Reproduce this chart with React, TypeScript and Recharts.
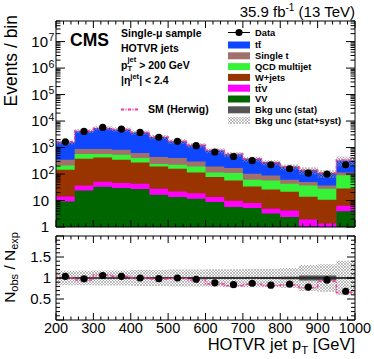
import React from "react";
import { Area, ComposedChart, ErrorBar, Line, ReferenceLine, Scatter, XAxis, YAxis } from "recharts";

const FONT = "'Liberation Sans', Arial, Helvetica, sans-serif";

// HOTVR jet pT bins [GeV], last bin holds the overflow
const binEdges = [200, 250, 300, 350, 400, 450, 500, 550, 600, 650, 700, 750, 800, 850, 900, 950, 1000];

// events per bin
const dataObs = [1650, 4070, 5750, 5000, 3730, 2450, 1720, 1180, 680, 460, 320, 224, 158, 108, 100, 224];
const ttbar = [1240, 3280, 4550, 3980, 3110, 2050, 1320, 915, 575, 380, 265, 180, 124, 88, 68, 212];
const singleTop = [137, 305, 305, 295, 220, 200, 176, 106, 79, 60, 41, 32, 18, 13, 9, 26];
const qcd = [65, 190, 145, 188, 125, 46, 66, 79, 38, 53, 27, 31, 22, 23, 17, 61];
const wjets = [131, 343, 374, 301, 232, 166, 136, 96, 63, 47, 26, 21, 17, 12, 9.4, 22];
const ttv = [5, 13, 18, 16, 16, 11, 8.5, 7.3, 4.7, 4.1, 2.9, 1.7, 1.8, 0.85, 0.4, 2.5];
const vv = [9.2, 24, 33, 30, 27, 16.6, 13.5, 11.7, 8.8, 5.7, 5.2, 3.2, 2.4, 1.05, 0.95, 3.9];
const herwig = [1650, 4260, 5370, 4810, 3730, 2510, 1740, 1235, 790, 565, 376, 275, 189, 140, 109, 342];

// ratio panel
const ratioObs = [1.04, 0.98, 1.06, 1.04, 1.0, 0.985, 1.0, 0.97, 0.885, 0.84, 0.875, 0.83, 0.855, 0.785, 0.955, 0.685];
const ratioErr = [0.025, 0.015, 0.015, 0.015, 0.017, 0.02, 0.025, 0.03, 0.035, 0.04, 0.05, 0.055, 0.065, 0.075, 0.09, 0.05];
const ratioHerwig = [1.0, 0.955, 1.07, 1.04, 1.0, 0.975, 0.99, 0.955, 0.86, 0.815, 0.85, 0.815, 0.835, 0.77, 0.92, 0.655];
const relUncSyst = [0.17, 0.17, 0.18, 0.18, 0.19, 0.19, 0.2, 0.2, 0.21, 0.21, 0.22, 0.22, 0.24, 0.31, 0.33, 0.41];
const relUncStat = [0.012, 0.008, 0.008, 0.008, 0.008, 0.01, 0.012, 0.015, 0.015, 0.02, 0.02, 0.025, 0.03, 0.06, 0.06, 0.015];

const colors = {
  tt: "#0f46ff",
  st: "#a1706b",
  qcd: "#37f337",
  wjets: "#993300",
  ttv: "#ff00ff",
  vv: "#006600",
  stat: "#555555",
  herwig: "#ff3399",
};

// step rows: one per bin edge, the last edge repeats the last bin
const histRows = binEdges.map((x, k) => {
  const i = Math.min(k, dataObs.length - 1);
  const c1 = vv[i];
  const c2 = c1 + ttv[i];
  const c3 = c2 + wjets[i];
  const c4 = c3 + qcd[i];
  const c5 = c4 + singleTop[i];
  const c6 = c5 + ttbar[i];
  const u = relUncSyst[i];
  const s = relUncStat[i];
  return {
    x,
    vv: c1,
    ttv: c2,
    wjets: c3,
    qcd: c4,
    st: c5,
    tt: c6,
    syst: [c6 * (1 - u), c6 * (1 + u)],
    stat: [c6 * (1 - s), c6 * (1 + s)],
    herwig: herwig[i],
    rSyst: [1 - u, 1 + u],
    rStat: [1 - s, 1 + s],
    rHerwig: ratioHerwig[i],
  };
});

const pointRows = dataObs.map((y, i) => ({ x: (binEdges[i] + binEdges[i + 1]) / 2, y }));
const ratioRows = ratioObs.map((y, i) => ({ x: (binEdges[i] + binEdges[i + 1]) / 2, y, err: ratioErr[i] }));

const xTicks: number[] = [];
for (let v = 200; v <= 1000; v += 20) xTicks.push(v);
const logTicks: number[] = [];
for (let d = 0; d <= 7; d++) for (let m = 1; m <= 9; m++) if (m * 10 ** d <= 6e7) logTicks.push(m * 10 ** d);
const ratioTicks: number[] = [];
for (let k = 0; k <= 20; k++) ratioTicks.push(k / 10);

function XTick({ x, y, payload, side, labels }: any) {
  const v = payload.value;
  const major = v % 100 === 0;
  const len = major ? 7 : 3.5;
  const dir = side === "top" ? 1 : -1;
  return (
    <g>
      <line x1={x} x2={x} y1={y} y2={y + dir * len} stroke="#000" strokeWidth={1} />
      {labels && major && (
        <text x={x} y={y + 12.5} textAnchor="middle" fontSize={14.5} fontFamily={FONT} fill="#000">
          {v}
        </text>
      )}
    </g>
  );
}

function LogTick({ x, y, payload, side }: any) {
  const v = payload.value;
  const e = Math.round(Math.log10(v));
  const major = Math.abs(10 ** e - v) < 1e-6 * v;
  const len = major ? 9 : 4.5;
  const dir = side === "left" ? 1 : -1;
  let label = null;
  if (side === "left" && major) {
    label =
      e < 2 ? (
        <text x={x - 7} y={y + 5.4} textAnchor="end" fontSize={15} fontFamily={FONT} fill="#000">
          {e === 0 ? "1" : "10"}
        </text>
      ) : (
        <g>
          <text x={x - 8} y={y + 5.4} textAnchor="end" fontSize={15} fontFamily={FONT} fill="#000">
            10
          </text>
          <text x={x - 7.5} y={y - 0.5} textAnchor="start" fontSize={10.5} fontFamily={FONT} fill="#000">
            {e}
          </text>
        </g>
      );
  }
  return (
    <g>
      <line x1={x} x2={x + dir * len} y1={y} y2={y} stroke="#000" strokeWidth={1} />
      {label}
    </g>
  );
}

function RatioTick({ x, y, payload, side }: any) {
  const k = Math.round(payload.value * 10);
  const major = k % 5 === 0;
  const len = major ? 8 : 4;
  const dir = side === "left" ? 1 : -1;
  const txt = k === 5 ? "0.5" : k === 10 ? "1" : k === 15 ? "1.5" : null;
  return (
    <g>
      <line x1={x} x2={x + dir * len} y1={y} y2={y} stroke="#000" strokeWidth={1} />
      {side === "left" && txt && (
        <text x={x - 5} y={y + 5.2} textAnchor="end" fontSize={15} fontFamily={FONT} fill="#000">
          {txt}
        </text>
      )}
    </g>
  );
}

const axisCommon = {
  type: "number" as const,
  tickSize: 0,
  tickMargin: 0,
  tickLine: false,
  interval: 0 as const,
  allowDataOverflow: true,
  axisLine: { stroke: "#000", strokeWidth: 1 },
};

function Hatch({ id }: { id: string }) {
  return (
    <defs>
      <pattern id={id} patternUnits="userSpaceOnUse" width={3} height={3}>
        <path d="M0,0 L3,3 M3,0 L0,3" stroke="#8a8a8a" strokeWidth={0.55} />
      </pattern>
    </defs>
  );
}

function TopPanel() {
  const stack: [string, string][] = [
    ["tt", colors.tt],
    ["st", colors.st],
    ["qcd", colors.qcd],
    ["wjets", colors.wjets],
    ["ttv", colors.ttv],
    ["vv", colors.vv],
  ];
  return (
    <ComposedChart width={374} height={236} data={histRows} margin={{ top: 20, right: 18, bottom: 8, left: 0 }}>
      <Hatch id="hatchTop" />
      <XAxis {...axisCommon} dataKey="x" domain={[200, 1000]} ticks={xTicks} height={1} tick={(p: any) => <XTick {...p} side="bottom" />} />
      <XAxis {...axisCommon} xAxisId="top" orientation="top" dataKey="x" domain={[200, 1000]} ticks={xTicks} height={1} tick={(p: any) => <XTick {...p} side="top" />} />
      <YAxis {...axisCommon} scale="log" domain={[1, 6e7]} ticks={logTicks} width={56} tick={(p: any) => <LogTick {...p} side="left" />} />
      <YAxis {...axisCommon} yAxisId="right" orientation="right" scale="log" domain={[1, 6e7]} ticks={logTicks} width={1} tick={(p: any) => <LogTick {...p} side="right" />} />
      {stack.map(([key, col]) => (
        <Area key={key} type="stepAfter" dataKey={key} fill={col} fillOpacity={1} stroke="none" isAnimationActive={false} />
      ))}
      <Area type="stepAfter" dataKey="syst" fill="url(#hatchTop)" fillOpacity={1} stroke="none" isAnimationActive={false} />
      <Area type="stepAfter" dataKey="stat" fill={colors.stat} fillOpacity={1} stroke="none" isAnimationActive={false} />
      <Line type="stepAfter" dataKey="herwig" stroke={colors.herwig} strokeWidth={1.5} strokeDasharray="3 1.5 1 1.5" dot={false} isAnimationActive={false} />
      <Scatter data={pointRows} dataKey="y" isAnimationActive={false} shape={(p: any) => <circle cx={p.cx} cy={p.cy} r={3.6} fill="#000" />} />
    </ComposedChart>
  );
}

function RatioPanel() {
  return (
    <ComposedChart width={374} height={359} data={histRows} margin={{ top: 235, right: 18, bottom: 0, left: 0 }}>
      <Hatch id="hatchRatio" />
      <XAxis {...axisCommon} dataKey="x" domain={[200, 1000]} ticks={xTicks} height={39} tick={(p: any) => <XTick {...p} side="bottom" labels />} />
      <XAxis {...axisCommon} xAxisId="top" orientation="top" dataKey="x" domain={[200, 1000]} ticks={xTicks} height={1} tick={(p: any) => <XTick {...p} side="top" />} />
      <YAxis {...axisCommon} domain={[0, 2]} ticks={ratioTicks} width={56} tick={(p: any) => <RatioTick {...p} side="left" />} />
      <YAxis {...axisCommon} yAxisId="right" orientation="right" domain={[0, 2]} ticks={ratioTicks} width={1} tick={(p: any) => <RatioTick {...p} side="right" />} />
      <Area type="stepAfter" dataKey="rSyst" fill="url(#hatchRatio)" fillOpacity={1} stroke="none" isAnimationActive={false} />
      <Area type="stepAfter" dataKey="rStat" fill={colors.stat} fillOpacity={1} stroke="none" isAnimationActive={false} />
      <ReferenceLine y={1} stroke="#222" strokeWidth={1.5} />
      <Line type="stepAfter" dataKey="rHerwig" stroke={colors.herwig} strokeWidth={1.5} strokeDasharray="3 1.5 1 1.5" dot={false} isAnimationActive={false} />
      <Scatter data={ratioRows} dataKey="y" isAnimationActive={false} shape={(p: any) => <circle cx={p.cx} cy={p.cy} r={3.6} fill="#000" />}>
        <ErrorBar dataKey="err" direction="y" width={0} stroke="#000" strokeWidth={1} />
      </Scatter>
    </ComposedChart>
  );
}

const legendEntries: { label: React.ReactNode; fill: string }[] = [
  { label: "tt\u0304", fill: colors.tt },
  { label: "Single t", fill: colors.st },
  { label: "QCD multijet", fill: colors.qcd },
  { label: "W+jets", fill: colors.wjets },
  { label: "tt\u0304V", fill: colors.ttv },
  { label: "VV", fill: colors.vv },
  { label: "Bkg unc (stat)", fill: colors.stat },
  { label: "Bkg unc (stat+syst)", fill: "url(#hatchLegend)" },
];

function Labels() {
  const t = { fontFamily: FONT, fill: "#000" };
  return (
    <svg width={374} height={359} style={{ position: "absolute", left: 0, top: 0 }}>
      <Hatch id="hatchLegend" />
      <text x={355} y={17} textAnchor="end" fontSize={15} {...t}>
        35.9 fb<tspan dy={-6} fontSize={10}>-1</tspan>
        <tspan dy={6}> (13 TeV)</tspan>
      </text>
      <text x={70} y={46} fontSize={17.5} fontWeight="bold" {...t}>CMS</text>
      <g fontSize={10.5} fontWeight="bold" {...t}>
        <text x={121} y={37}>Single-μ sample</text>
        <text x={121} y={52}>HOTVR jets</text>
        <text x={121} y={68.5}>
          p<tspan dy={2.5} fontSize={7.5}>T</tspan>
          <tspan dx={-4.5} dy={-9.5} fontSize={7.5}>jet</tspan>
          <tspan dy={7}> &gt; 200 GeV</tspan>
        </text>
        <text x={121} y={84}>
          |η<tspan dy={-5} fontSize={7.5}>jet</tspan>
          <tspan dy={5}>| &lt; 2.4</tspan>
        </text>
        <line x1={121} x2={138} y1={109.5} y2={109.5} stroke={colors.herwig} strokeWidth={2} strokeDasharray="3 1.5 1 1.5" />
        <text x={148} y={113}>SM (Herwig)</text>
      </g>
      <g fontSize={9.3} fontWeight="bold" {...t}>
        <line x1={228} x2={250} y1={32.5} y2={32.5} stroke="#000" strokeWidth={1} />
        <circle cx={239} cy={32.5} r={3.6} fill="#000" />
        <text x={255} y={36}>Data</text>
        {legendEntries.map((e, i) => {
          const cy = 45 + i * 10.8;
          return (
            <g key={i}>
              <rect x={228} y={cy - 3.5} width={22} height={7} fill={e.fill} />
              <text x={255} y={cy + 3.4}>{e.label}</text>
            </g>
          );
        })}
      </g>
      <text transform="translate(17,15) rotate(-90)" textAnchor="end" fontSize={17.5} {...t}>
        Events / bin
      </text>
      <text transform="translate(15,232) rotate(-90)" textAnchor="end" fontSize={15.5} {...t}>
        N<tspan dy={3} fontSize={11}>obs</tspan>
        <tspan dy={-3}> / N</tspan>
        <tspan dy={3} fontSize={11}>exp</tspan>
      </text>
      <text x={355} y={350} textAnchor="end" fontSize={16.5} {...t}>
        HOTVR jet p<tspan dy={4} fontSize={11.5}>T</tspan>
        <tspan dy={-4}> [GeV]</tspan>
      </text>
    </svg>
  );
}

export default function App() {
  return (
    <div style={{ position: "absolute", left: 0, top: 0, width: 374, height: 359, background: "#fff", overflow: "hidden" }}>
      <div style={{ position: "absolute", left: 0, top: 0 }}>
        <RatioPanel />
      </div>
      <div style={{ position: "absolute", left: 0, top: 0 }}>
        <TopPanel />
      </div>
      <Labels />
    </div>
  );
}
